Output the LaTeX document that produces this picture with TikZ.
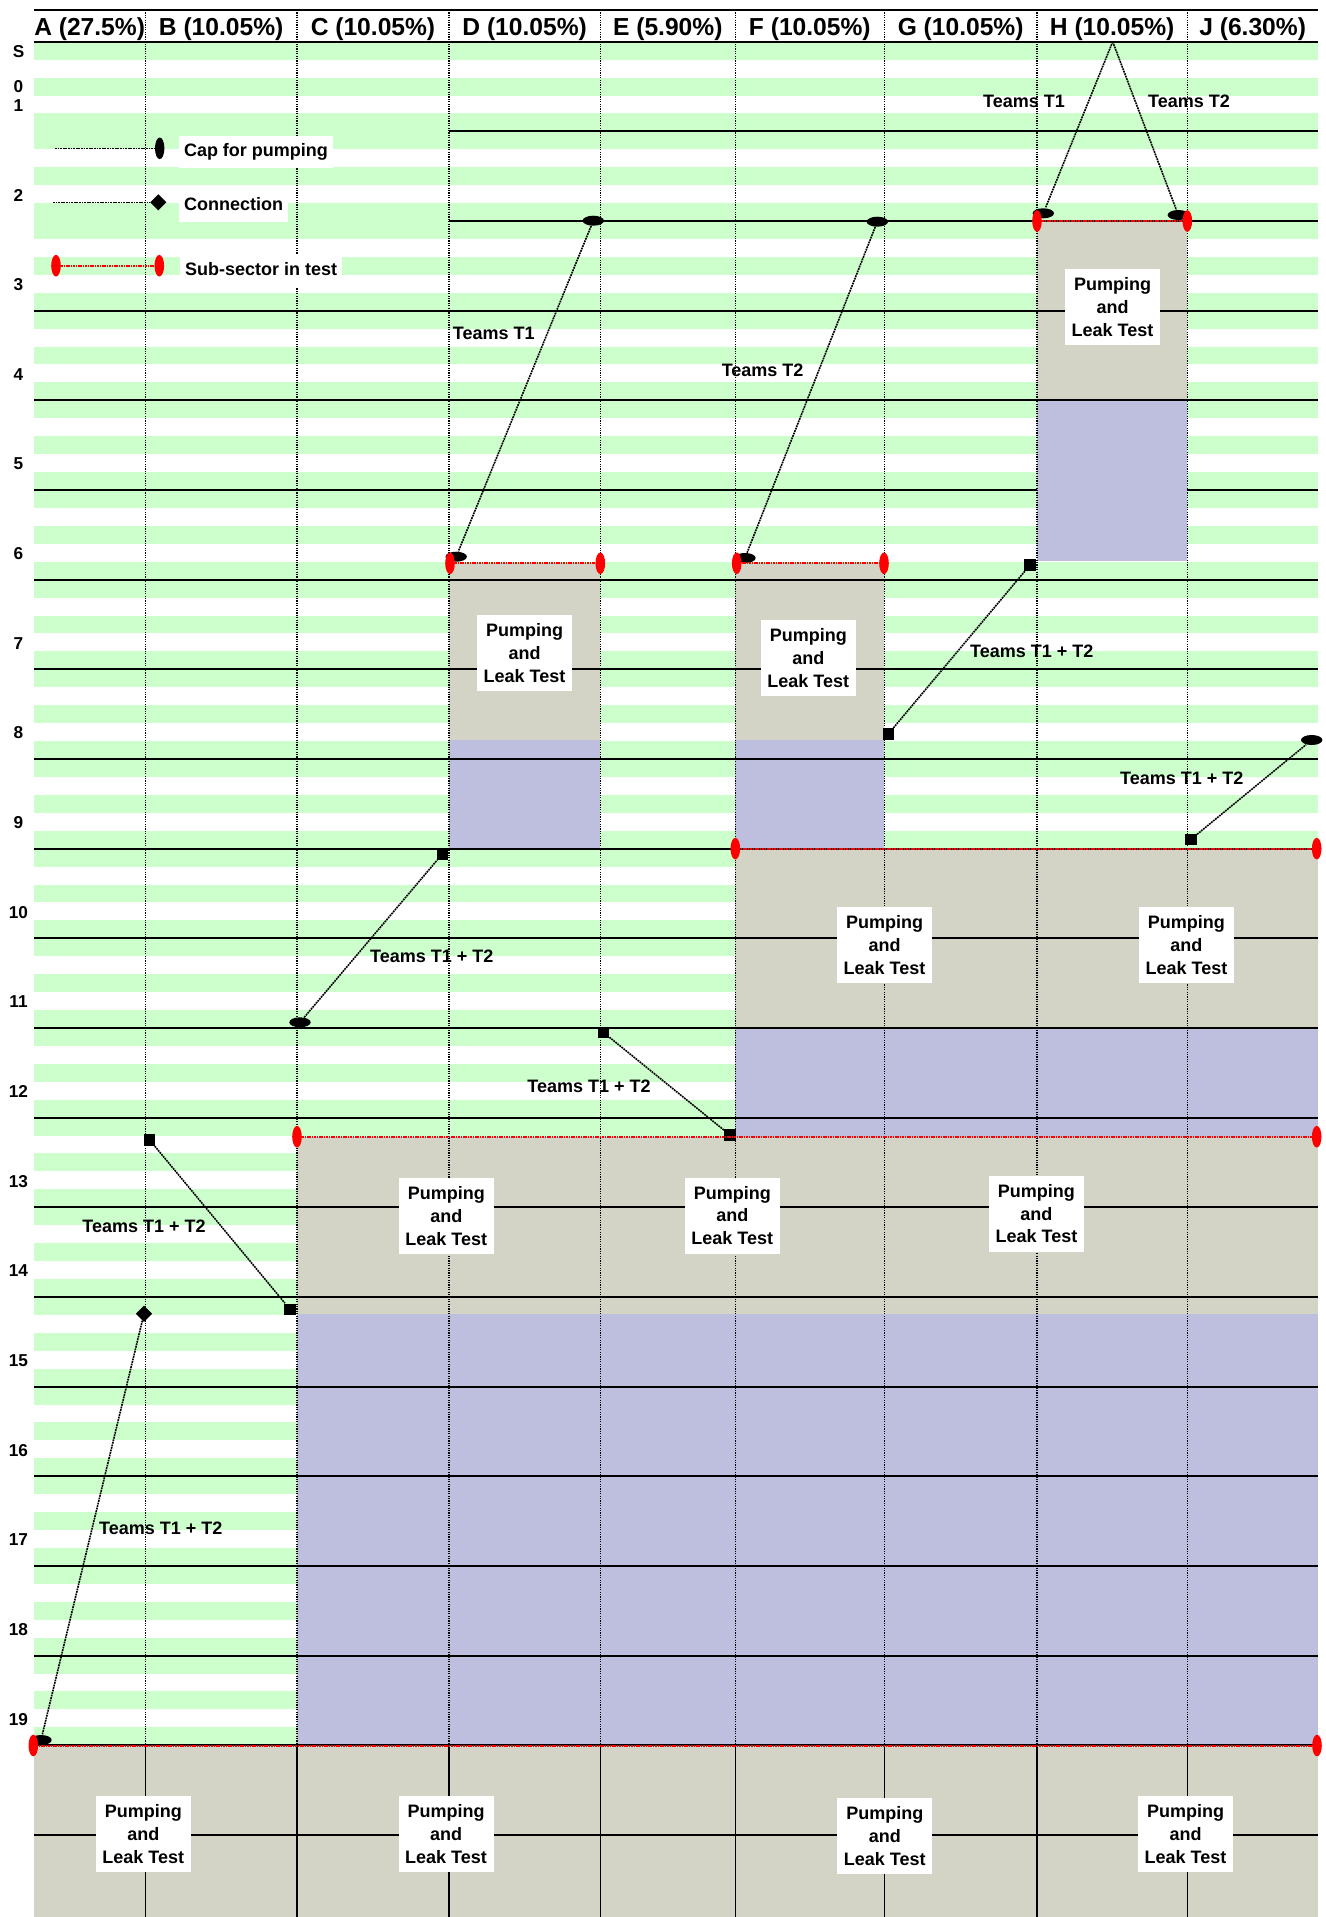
\documentclass[tikz,border=0pt]{standalone}
\usepackage{fontspec}
\setmainfont{Liberation Sans}
\usetikzlibrary{shapes.geometric}
\definecolor{stripegreen}{RGB}{204,255,204}
\definecolor{testgray}{RGB}{211,211,198}
\definecolor{doneblue}{RGB}{190,190,222}
\tikzset{
  hline/.style={line width=1pt, black},
  vdot/.style={line width=0.55pt, black, dash pattern=on 0.6pt off 0.6pt},
  vsolid/.style={line width=0.65pt, black},
  pipe/.style={line width=0.8pt, black, dash pattern=on 0.9pt off 0.4pt},
  redline/.style={line width=1pt, red, dash pattern=on 0.8pt off 0.4pt},
  pumpcap/.style={ellipse, fill=black, inner sep=0pt, minimum width=10.7pt, minimum height=5pt},
  vpumpcap/.style={ellipse, fill=black, inner sep=0pt, minimum width=4.7pt, minimum height=10.8pt},
  redcap/.style={ellipse, fill=red, inner sep=0pt, minimum width=4.8pt, minimum height=10.8pt},
  connsq/.style={rectangle, fill=black, inner sep=0pt, minimum size=5.7pt},
  conndia/.style={diamond, fill=black, inner sep=0pt, minimum width=8.2pt, minimum height=8.2pt},
  plt/.style={fill=white, inner sep=0pt, align=center, minimum width=47.5pt, minimum height=38pt,
    font=\fontsize{9}{11.4}\selectfont\bfseries},
  teamlbl/.style={inner sep=0pt, font=\fontsize{9}{11}\selectfont\bfseries},
  legtxt/.style={fill=white, inner xsep=2.6pt, inner ysep=3.8pt, text height=6.5pt, text depth=1.9pt,
    font=\fontsize{9}{11}\selectfont\bfseries},
  rowlbl/.style={inner sep=0pt, font=\fontsize{8.6}{10}\selectfont\bfseries},
  collbl/.style={inner sep=0pt, anchor=base, font=\fontsize{12.3}{14}\selectfont\bfseries}
}
\begin{document}
\begin{tikzpicture}[x=0.5pt,y=-0.5pt]
\useasboundingbox (0,0) rectangle (1326,1917);
\fill[white] (0,0) rectangle (1326,1917);
% stripes
\foreach \k in {0,...,18} {
  \pgfmathsetmacro\ya{41.7+89.66*\k}
  \fill[stripegreen] (34,\ya) rectangle (1318,\ya+17.93);
  \fill[stripegreen] (34,\ya+35.86) rectangle (1318,\ya+53.8);
  \fill[stripegreen] (34,\ya+71.73) rectangle (1318,\ya+89.66);
}
% test regions
\fill[testgray] (449,563.3) rectangle (600.3,740);
\fill[doneblue] (449,740) rectangle (600.3,848.64);
\fill[testgray] (735.3,563.3) rectangle (884.3,740);
\fill[doneblue] (735.3,740) rectangle (884.3,848.64);
\fill[testgray] (1037,221.02) rectangle (1187.3,400.34);
\fill[testgray] (735.3,848.64) rectangle (1318,1027.96);
\fill[doneblue] (735.3,1027.96) rectangle (1318,1136.7);
\fill[testgray] (297,1136.7) rectangle (1318,1314);
\fill[doneblue] (297,1314) rectangle (1318,1745.24);
\fill[testgray] (34,1745.24) rectangle (1318,1917);
% horizontal lines
\draw[hline] (34,10) -- (1318,10);
\draw[hline] (34,41.7) -- (1318,41.7);
\draw[hline] (449,131.36) -- (1318,131.36);
\draw[hline] (449,221.02) -- (1318,221.02);
\foreach \k in {3,...,20} \draw[hline] (34,{41.7+89.66*\k}) -- (1318,{41.7+89.66*\k});
\fill[doneblue] (1037,400.34+1) rectangle (1187.3,560.7);
% vertical lines
\foreach \x in {145.3,297,449,600.3,735.3,884.3,1037,1187.3} {
  \draw[vdot] (\x,10) -- (\x,1745.24);
  \draw[vsolid] (\x,1745.24) -- (\x,1917);
}
% column headers
\node[collbl] (hA) at (89.65,35) {A (27.5\%)};
\node[collbl] (hB) at (221.15,35) {B (10.05\%)};
\node[collbl] (hC) at (373,35) {C (10.05\%)};
\node[collbl] (hD) at (524.65,35) {D (10.05\%)};
\node[collbl] (hE) at (667.8,35) {E (5.90\%)};
\node[collbl] (hF) at (809.8,35) {F (10.05\%)};
\node[collbl] (hG) at (960.65,35) {G (10.05\%)};
\node[collbl] (hH) at (1112.15,35) {H (10.05\%)};
\node[collbl] (hJ) at (1252.65,35) {J (6.30\%)};
% row labels
\node[rowlbl] (rS) at (18.5,51.7) {S};
\node[rowlbl] (r0) at (18.5,86.7) {0};
\node[rowlbl] (r1) at (18.5,105.3) {1};
\foreach \n in {2,...,19} \node[rowlbl] (r\n) at (18.5,{41.7+89.66*\n-26}) {\n};
% legend
\coordinate (lgA) at (55,148.3);
\node[vpumpcap] (lgCap) at (159.7,148.3) {};
\draw[pipe] (lgA) -- (lgCap);
\node[legtxt] (lgCapT) at (256,152) {Cap for pumping};
\coordinate (lgB) at (53,202.3);
\node[conndia] (lgDia) at (158.3,202.3) {};
\draw[pipe] (lgB) -- (lgDia);
\node[legtxt] (lgConT) at (233.7,205.5) {Connection};
\node[redcap] (lgR1) at (56,265.7) {};
\node[redcap] (lgR2) at (159.3,265.7) {};
\draw[redline] (lgR1) -- (lgR2);
\node[legtxt] (lgSubT) at (261.2,271) {Sub-sector in test};
% caps
\node[pumpcap] (capE2) at (593.3,220.7) {};
\node[pumpcap] (capD6) at (456.2,556.7) {};
\node[pumpcap] (capG2) at (877.3,221.7) {};
\node[pumpcap] (capF6) at (745,558) {};
\node[pumpcap] (capH1) at (1043.3,213.3) {};
\node[pumpcap] (capH2) at (1178.3,215) {};
\node[pumpcap] (capJ8) at (1311.7,740) {};
\node[pumpcap] (capC11) at (300,1022.3) {};
\node[pumpcap] (capA19) at (41,1740) {};
\coordinate (apexH) at (1112.7,41.7);
% connections
\node[connsq] (sqH) at (1030,565) {};
\node[connsq] (sqG8) at (888.3,734) {};
\node[connsq] (sqJ9) at (1191,839.3) {};
\node[connsq] (sqD9) at (442.3,854) {};
\node[connsq] (sqE11) at (603.3,1032.3) {};
\node[connsq] (sqF12) at (730,1135) {};
\node[connsq] (sqB12) at (149.7,1140) {};
\node[connsq] (sqC14) at (290,1309.3) {};
\node[conndia] (dB14) at (144,1313.7) {};
% team connectors
\draw[pipe] (capE2) -- (capD6);
\draw[pipe] (capG2) -- (capF6);
\draw[pipe] (apexH) -- (capH1);
\draw[pipe] (apexH) -- (capH2);
\draw[pipe] (sqG8) -- (sqH);
\draw[pipe] (sqJ9) -- (capJ8);
\draw[pipe] (capC11) -- (sqD9);
\draw[pipe] (sqE11) -- (sqF12);
\draw[pipe] (sqB12) -- (sqC14);
\draw[pipe] (dB14) -- (capA19);
% red sub-sector markers
\node[redcap] (rD1) at (450,563.3) {};
\node[redcap] (rD2) at (600.3,563.3) {};
\node[redcap] (rF1) at (736.7,563.3) {};
\node[redcap] (rF2) at (884,563.3) {};
\node[redcap] (rH1) at (1037,221) {};
\node[redcap] (rH2) at (1187.3,221) {};
\node[redcap] (rFJ1) at (735.3,848.6) {};
\node[redcap] (rFJ2) at (1316.7,848.6) {};
\node[redcap] (rCJ1) at (297,1136.7) {};
\node[redcap] (rCJ2) at (1316.7,1136.7) {};
\node[redcap] (rA1) at (33.3,1745.5) {};
\node[redcap] (rA2) at (1317,1745.5) {};
\draw[redline] (rD1) -- (rD2);
\draw[redline] (rF1) -- (rF2);
\draw[redline] (rH1) -- (rH2);
\draw[redline] (rFJ1) -- (rFJ2);
\draw[redline] (rCJ1) -- (rCJ2);
\draw[redline] (rA1) -- (rA2);
% team labels
\node[teamlbl] (tD) at (493.7,333.6) {Teams T1};
\node[teamlbl] (tF) at (762.6,370.3) {Teams T2};
\node[teamlbl] (tH1) at (1024,101.7) {Teams T1};
\node[teamlbl] (tH2) at (1189,101.7) {Teams T2};
\node[teamlbl] (tGH) at (1031.7,651.7) {Teams T1 + T2};
\node[teamlbl] (tJ) at (1181.7,778.3) {Teams T1 + T2};
\node[teamlbl] (tCD) at (431.7,956) {Teams T1 + T2};
\node[teamlbl] (tEF) at (589,1086.7) {Teams T1 + T2};
\node[teamlbl] (tBC) at (144,1226.7) {Teams T1 + T2};
\node[teamlbl] (tAB) at (160.7,1528.3) {Teams T1 + T2};
% pumping and leak test boxes
\node[plt] (pD) at (524.5,653) {Pumping\\and\\Leak Test};
\node[plt] (pF) at (808.3,658) {Pumping\\and\\Leak Test};
\node[plt] (pH) at (1112.5,307) {Pumping\\and\\Leak Test};
\node[plt] (pFJ1) at (884.5,945) {Pumping\\and\\Leak Test};
\node[plt] (pFJ2) at (1186.4,945) {Pumping\\and\\Leak Test};
\node[plt] (pCJ1) at (446.3,1216) {Pumping\\and\\Leak Test};
\node[plt] (pCJ2) at (732.3,1215.5) {Pumping\\and\\Leak Test};
\node[plt] (pCJ3) at (1036.4,1213.6) {Pumping\\and\\Leak Test};
\node[plt] (pB1) at (143.3,1833.8) {Pumping\\and\\Leak Test};
\node[plt] (pB2) at (446,1833.8) {Pumping\\and\\Leak Test};
\node[plt] (pB3) at (884.8,1836) {Pumping\\and\\Leak Test};
\node[plt] (pB4) at (1185.5,1833.8) {Pumping\\and\\Leak Test};
\end{tikzpicture}
\end{document}
